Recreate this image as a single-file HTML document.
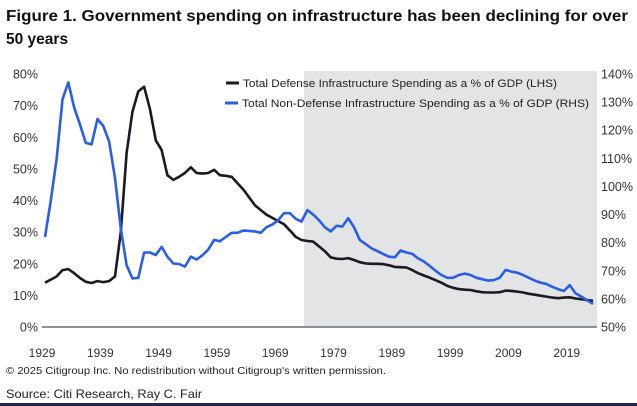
<!DOCTYPE html>
<html><head><meta charset="utf-8"><style>
body{margin:0;background:#fff;}
svg{display:block;font-family:"Liberation Sans",sans-serif;}
</style></head><body>
<svg id="chart" width="637" height="406" viewBox="0 0 637 406">
<text x="6" y="21" font-size="15.5" font-weight="bold" fill="#111" textLength="622" lengthAdjust="spacingAndGlyphs">Figure 1. Government spending on infrastructure has been declining for over</text>
<text x="6" y="44" font-size="15.5" font-weight="bold" fill="#111">50 years</text>
<rect x="304" y="71" width="293" height="256" fill="#e3e4e6"/>
<g id="yl"></g>
<g id="yr"></g>
<g id="xa"></g>
<line x1="42" y1="327" x2="597" y2="327" stroke="#6b6f78" stroke-width="1.5"/>
<g id="series"></g>
<g>
<line x1="226" y1="83" x2="239" y2="83" stroke="#1a1a24" stroke-width="3"/>
<text x="243" y="87" font-size="11" fill="#222" textLength="314" lengthAdjust="spacingAndGlyphs">Total Defense Infrastructure Spending as a % of GDP (LHS)</text>
<line x1="225" y1="103" x2="238" y2="103" stroke="#2a5ee8" stroke-width="3"/>
<text x="242" y="107" font-size="11" fill="#222" textLength="347" lengthAdjust="spacingAndGlyphs">Total Non-Defense Infrastructure Spending as a % of GDP (RHS)</text>
</g>
<text x="6" y="374" font-size="10.5" fill="#222" textLength="380" lengthAdjust="spacingAndGlyphs">© 2025 Citigroup Inc. No redistribution without Citigroup's written permission.</text>
<text x="6" y="398" font-size="12" fill="#222" textLength="196" lengthAdjust="spacingAndGlyphs">Source: Citi Research, Ray C. Fair</text>
<rect x="0" y="403" width="637" height="3" fill="#1c2b4a"/>
</svg>
<script>
const startYear = 1929;
const defense = [14,15,16,18,18.3,17,15.5,14.3,13.9,14.5,14.2,14.5,16,30,55,68,74.5,76,69,59,56,48,46.5,47.5,48.7,50.5,48.7,48.5,48.7,49.7,48,47.8,47.5,45.5,43.5,41,38.5,37,35.5,34.5,33.5,32.5,30.5,28.5,27.5,27.2,27,25.5,24,22,21.6,21.5,21.8,21.2,20.5,20.1,20,20,19.9,19.5,19,18.9,18.8,18,17,16.3,15.6,14.8,14,13,12.4,12,11.8,11.7,11.3,11,10.9,10.9,11,11.5,11.4,11.2,10.9,10.5,10.2,9.9,9.6,9.3,9.1,9.3,9.4,9,8.8,8.5,8.3];
const nonDefense = [82,95,110,131,137,128,122,115.5,115,124,121.5,116,103,85,72,67.3,67.5,76.5,76.5,75.6,78.5,75,72.6,72.4,71.5,75,74,75.5,77.5,81,80.5,82,83.5,83.5,84.3,84.2,84,83.5,85.5,86.5,88,90.5,90.5,88.5,87.5,91.6,90,88,85.5,84,86,85.7,88.7,85.5,81,79.5,78,77,76,75,74.8,77.2,76.5,76,74.4,73.3,71.7,70,68.5,67.5,67.5,68.5,69,68.5,67.5,67,66.5,66.7,67.5,70.3,69.7,69.3,68.5,67.5,66.5,65.8,65.3,64.3,63.5,62.8,64.9,62,60.8,59.5,58.2];
const leftTicks = [0,10,20,30,40,50,60,70,80];
const rightTicks = [50,60,70,80,90,100,110,120,130,140];
const xTicks = [1929,1939,1949,1959,1969,1979,1989,1999,2009,2019];

const NS = "http://www.w3.org/2000/svg";
const x = yr => 45 + (yr - 1929) * 5.83;
const yL = v => 327 - v * (253 / 80);
const yR = v => 327 - (v - 50) * (253 / 90);
function mk(tag, attrs, parent){const e=document.createElementNS(NS,tag);for(const k in attrs)e.setAttribute(k,attrs[k]);parent.appendChild(e);return e;}

const yl=document.getElementById('yl');
leftTicks.forEach(t=>{const e=mk('text',{x:38,y:yL(t)+4.5,'font-size':12.5,fill:'#333','text-anchor':'end'},yl);e.textContent=t+'%';

});
const yr=document.getElementById('yr');
rightTicks.forEach(t=>{const e=mk('text',{x:601,y:yR(t)+4.5,'font-size':12.5,fill:'#333'},yr);e.textContent=t+'%';

});
const xa=document.getElementById('xa');
xTicks.forEach(t=>{const e=mk('text',{x:x(t)-3,y:357,'font-size':12,fill:'#333','text-anchor':'middle'},xa);e.textContent=t;

});

const g=document.getElementById('series');
const pd = defense.map((v,i)=>(i?'L':'M')+x(startYear+i).toFixed(1)+','+yL(v).toFixed(1)).join('');
const pn = nonDefense.map((v,i)=>(i?'L':'M')+x(startYear+i).toFixed(1)+','+yR(v).toFixed(1)).join('');
const l1=mk('path',{d:pd,fill:'none',stroke:'#1a1a24','stroke-width':2.6,'stroke-linejoin':'round'},g);


const l2=mk('path',{d:pn,fill:'none',stroke:'#2a5ee8','stroke-width':2.6,'stroke-linejoin':'round'},g);


</script>
</body></html>
